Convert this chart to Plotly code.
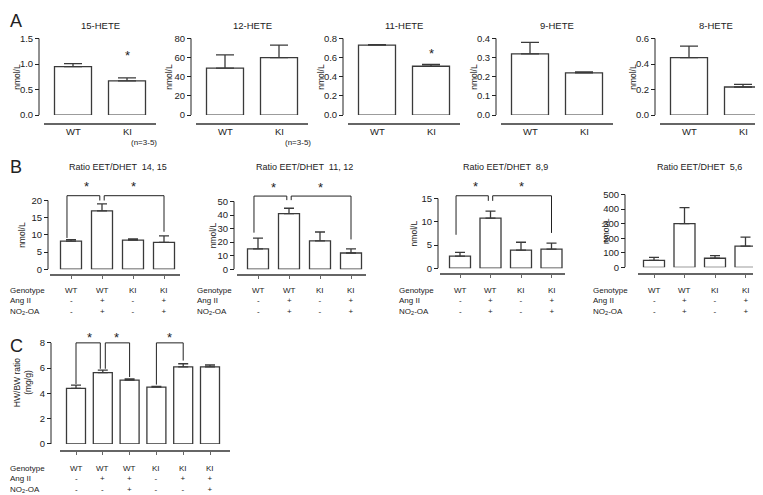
import plotly.graph_objects as go

W, H = 763, 495
FONT = "Liberation Sans, Arial, sans-serif"
INK = "#222222"
BAR_LINE = "#3a3a3a"
BASE_COL = "#666666"

# ---------------- Panel A data ----------------
a_titles = ["15-HETE", "12-HETE", "11-HETE", "9-HETE", "8-HETE"]
a_groups = ["WT", "KI"]
a_means = [[0.95, 0.67], [49, 60], [0.73, 0.51], [0.32, 0.22], [0.45, 0.22]]
a_errs = [[0.06, 0.06], [14, 13], [0.005, 0.02], [0.06, 0.005], [0.09, 0.02]]
a_ticks = [[0.0, 0.5, 1.0, 1.5], [0, 20, 40, 60, 80], [0.0, 0.2, 0.4, 0.6, 0.8],
           [0.0, 0.1, 0.2, 0.3, 0.4], [0.0, 0.2, 0.4, 0.6]]
a_fmt = [".1f", "d", ".1f", ".1f", ".1f"]
a_star = [1, None, 1, None, None]          # bar index carrying a star
a_star_y = [1.17, None, 0.64, None, None]

# ---------------- Panel B data ----------------
b_titles = ["Ratio EET/DHET  14, 15", "Ratio EET/DHET  11, 12",
            "Ratio EET/DHET  8,9", "Ratio EET/DHET  5,6"]
b_geno = ["WT", "WT", "KI", "KI"]
b_ang = ["-", "+", "-", "+"]
b_no2 = ["-", "+", "-", "+"]
b_means = [[8.2, 17.0, 8.5, 7.8], [15, 41, 21, 12], [2.6, 10.8, 3.9, 4.1], [48, 300, 62, 145]]
b_errs = [[0.4, 2.0, 0.3, 1.9], [8, 4, 6.5, 3], [0.8, 1.5, 1.7, 1.3], [20, 110, 18, 62]]
b_ticks = [[0, 5, 10, 15, 20], [0, 10, 20, 30, 40, 50], [0, 5, 10, 15], [0, 100, 200, 300, 400, 500]]
# brackets: (from bar, to bar, left leg bottom, right leg bottom)
b_brackets = [[(0, 1, 9.1, 20.0), (1, 3, 20.0, 10.9)],
              [(0, 1, 27, 51), (1, 3, 51, 22)],
              [(0, 1, 7.2, 14.5), (1, 3, 14.5, 7.6)],
              []]
b_bracket_top = [21.4, 54, 15.6, None]
b_star_y = [24.0, 60, 17.6, None]

# ---------------- Panel C data ----------------
c_geno = ["WT", "WT", "WT", "KI", "KI", "KI"]
c_ang = ["-", "+", "+", "-", "+", "+"]
c_no2 = ["-", "-", "+", "-", "-", "+"]
c_means = [4.4, 5.65, 5.05, 4.5, 6.1, 6.1]
c_errs = [0.25, 0.2, 0.1, 0.05, 0.25, 0.15]
c_ticks = [0, 2, 4, 6, 8]
c_brackets = [(0, 1, 4.75, 5.95), (1, 2, 5.95, 5.3), (3, 4, 4.7, 6.6)]
c_bracket_top = 8.0
c_star_y = 8.45

row_names = ["Genotype", "Ang II", "NO<sub>2</sub>-OA"]

fig = go.Figure()
layout = {}
ann = []
shapes = []
count = [0]


def clamp(v):
    return max(0.0, min(1.0, v))


def txt(x, y, s, size=9, xref="paper", yref="paper", xanchor="center", angle=0,
        yanchor="middle", align="center"):
    ann.append(dict(x=x, y=y, text=s, xref=xref, yref=yref, showarrow=False,
                    xanchor=xanchor, yanchor=yanchor, textangle=angle, align=align,
                    borderpad=0, font=dict(family=FONT, size=size, color=INK)))


def subplot(means, errs, ticks, fmt, c0, dx, axis_px, bx0, bx1, zero_px, max_px, base_px,
            ext, bw_px, cap, xticks):
    count[0] += 1
    i = count[0]
    sfx = "" if i == 1 else str(i)
    xid, yid = "x" + sfx, "y" + sfx
    n = len(means)
    bx1 = min(bx1, W - 1)
    ymax = ticks[-1]
    ppu = (zero_px - max_px) / ymax
    top_px = zero_px - ppu * ext
    fig.add_trace(go.Bar(
        x=list(range(n)), y=means, xaxis=xid, yaxis=yid, width=bw_px / dx,
        marker=dict(color="white", line=dict(color=BAR_LINE, width=1.3)),
        error_y=dict(type="data", symmetric=False, array=errs, arrayminus=[0] * n,
                     color=BAR_LINE, thickness=1.3, width=cap),
        hoverinfo="skip"))
    layout["xaxis" + sfx] = dict(
        domain=[clamp(bx0 / W), clamp(bx1 / W)], range=[(bx0 - c0) / dx, (bx1 - c0) / dx],
        anchor="free", position=clamp(1 - base_px / H), showline=True, linecolor=BASE_COL,
        linewidth=1.6, ticks="outside" if xticks else "", ticklen=3, tickwidth=1,
        tickcolor=BASE_COL, tickvals=list(range(n)), showticklabels=False,
        showgrid=False, zeroline=False, fixedrange=True)
    layout["yaxis" + sfx] = dict(
        domain=[clamp(1 - zero_px / H), clamp(1 - top_px / H)], range=[0, ext], anchor="free",
        position=clamp(axis_px / W), showline=False, ticks="outside", ticklen=4, tickwidth=1,
        tickcolor=INK, tickvals=ticks, tickformat=fmt, showgrid=False, zeroline=False,
        tickfont=dict(family=FONT, size=9.5, color=INK), fixedrange=True)
    shapes.append(dict(type="line", xref="paper", yref=yid, x0=axis_px / W, x1=axis_px / W,
                       y0=0, y1=ymax, line=dict(color=INK, width=1)))
    return xid, yid


def bracket(xid, yid, i, j, yl, yr, top, gap_l, gap_r):
    xl, xr = i + gap_l, j + gap_r
    shapes.append(dict(type="path", xref=xid, yref=yid,
                       path=f"M {xl},{yl} L {xl},{top} L {xr},{top} L {xr},{yr}",
                       line=dict(color=INK, width=1)))


def rows(xid, lab_x_px, top_px, geno, ang, no2, size=8):
    txt(lab_x_px / W, 1 - top_px / H, "<br>".join(row_names), size=size,
        xanchor="left", yanchor="top", align="left")
    for c in range(len(geno)):
        txt(c, 1 - top_px / H, "<br>".join([geno[c], ang[c], no2[c]]), size=size,
            xref=xid, yanchor="top")


# ---------------- Panel A ----------------
a_axis = [31, 183, 335, 488, 647]
for k in range(5):
    ax = a_axis[k]
    c0, dx = ax + 34, 54
    ymax = a_ticks[k][-1]
    xid, yid = subplot(a_means[k], a_errs[k], a_ticks[k], a_fmt[k], c0, dx, ax,
                       ax + 5, ax + 117, 105, 27, 114, ymax * 1.02, 37, 9, False)
    txt((c0 + dx / 2) / W, 1 - 14 / H, a_titles[k], size=9.5)
    txt((ax - 22) / W, 1 - 66 / H, "nmol/L", size=8.5, angle=-90)
    for g, lab in enumerate(a_groups):
        txt(g, 1 - 122 / H, lab, size=9.5, xref=xid)
    if a_star[k] is not None:
        txt(a_star[k], a_star_y[k], "*", size=13, xref=xid, yref=yid)
txt(1 / W, 1 - 9 / H, "A", size=18, xanchor="left")
txt(136 / W, 1 - 133 / H, "(n=3-5)", size=8)
txt(290 / W, 1 - 133 / H, "(n=3-5)", size=8)

# ---------------- Panel B ----------------
b_axis = [40, 226, 430, 617]
b_c0 = [63, 250, 452, 646]
b_dx = [31, 31, 30.5, 30.5]
b_base = [(42, 172), (229, 358), (432, 557), (630, 745)]
b_zero = [262, 262, 261, 260]
b_maxp = [192, 193, 190, 186]
b_base_y = [268, 268, 267, 267]
b_ylab_x = [14, 205, 406, 598]
for k in range(4):
    ymax = b_ticks[k][-1]
    ext = ymax * 1.3 if b_bracket_top[k] else ymax * 1.02
    xid, yid = subplot(b_means[k], b_errs[k], b_ticks[k], "d", b_c0[k], b_dx[k], b_axis[k],
                       b_base[k][0], b_base[k][1], b_zero[k], b_maxp[k], b_base_y[k],
                       ext, 21, 5, True)
    mid = b_c0[k] + 1.5 * b_dx[k]
    txt(mid / W, 1 - 158 / H, b_titles[k], size=9)
    txt(b_ylab_x[k] / W, 1 - (b_zero[k] + b_maxp[k]) / 2 / H, "nmol/L", size=8.5, angle=-90)
    g = 2.2 / b_dx[k]
    for bi, (i, j, yl, yr) in enumerate(b_brackets[k]):
        gl = -0.13 if bi == 0 else g
        gr = -g if bi == 0 else 0
        bracket(xid, yid, i, j, yl, yr, b_bracket_top[k], gl, gr)
        txt((i + j) / 2, b_star_y[k], "*", size=13, xref=xid, yref=yid)
    rows(xid, b_c0[k] - 62, 278, b_geno, b_ang, b_no2)
txt(1 / W, 1 - 158 / H, "B", size=18, xanchor="left")

# ---------------- Panel C ----------------
xid, yid = subplot(c_means, c_errs, c_ticks, "d", 68, 26.8, 43, 52, 222, 440, 337, 447,
                   8.6, 19, 5, True)
for bi, (i, j, yl, yr) in enumerate(c_brackets):
    g = 2.5 / 26.8
    gl = g if bi == 1 else 0
    gr = -g if bi == 0 else 0
    bracket(xid, yid, i, j, yl, yr, c_bracket_top, gl, gr)
    txt((i + j) / 2, c_star_y, "*", size=13, xref=xid, yref=yid)
txt(14 / W, 1 - 378 / H, "HW/BW ratio<br>(mg/g)", size=8.5, angle=-90)
rows(xid, 1, 459, c_geno, c_ang, c_no2)
txt(1 / W, 1 - 340 / H, "C", size=18, xanchor="left")

fig.update_layout(width=W, height=H, margin=dict(l=0, r=0, t=0, b=0),
                  paper_bgcolor="white", plot_bgcolor="white", showlegend=False,
                  annotations=ann, shapes=shapes, font=dict(family=FONT, color=INK),
                  **layout)
fig.write_html("out.html", config={"displayModeBar": False})
